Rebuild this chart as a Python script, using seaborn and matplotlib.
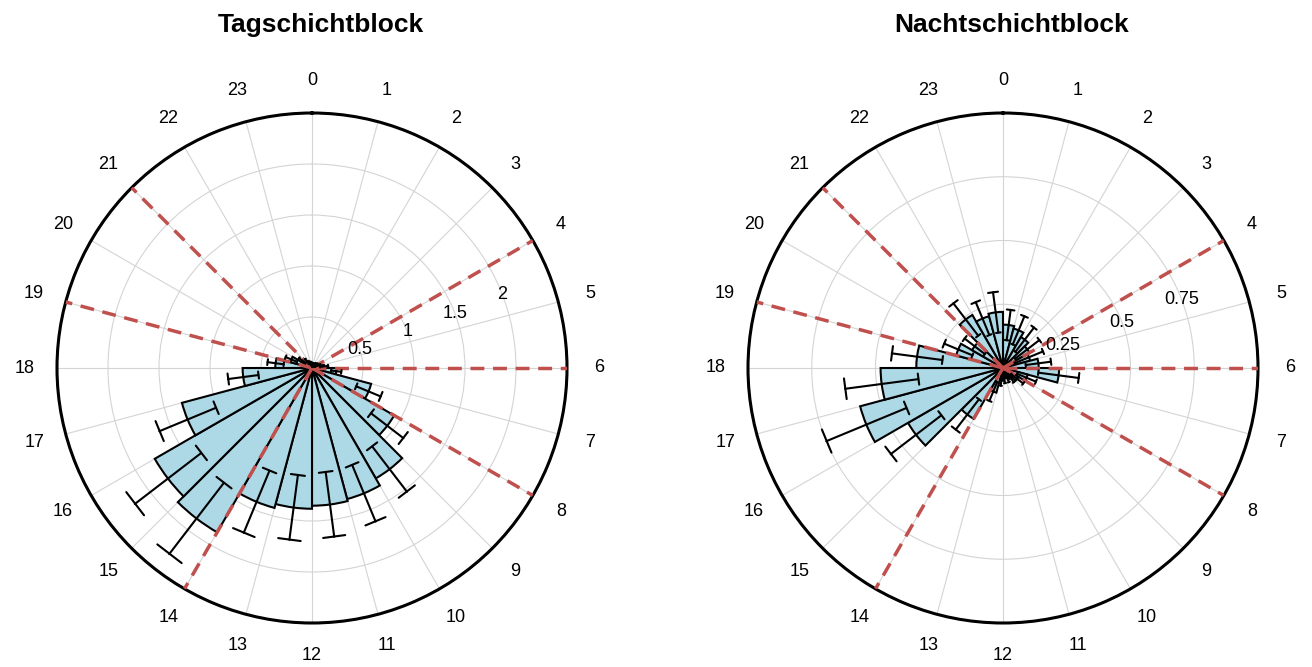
import numpy as np
import pandas as pd
import matplotlib
matplotlib.use("Agg")
import matplotlib.pyplot as plt
import seaborn as sns

# mean activity per hour-of-day bin (0 = 0-1 h, ...) and standard error
hours = list(range(24))
day_mean = [0.03, 0.03, 0.04, 0.05, 0.06, 0.12, 0.24, 0.60, 0.93, 1.25, 1.33, 1.35,
            1.38, 1.42, 1.86, 1.78, 1.32, 0.68, 0.36, 0.22, 0.12, 0.08, 0.05, 0.04]
day_se = [0.02, 0.02, 0.02, 0.02, 0.03, 0.04, 0.05, 0.13, 0.20, 0.28, 0.30, 0.32,
          0.32, 0.33, 0.44, 0.41, 0.30, 0.15, 0.08, 0.06, 0.04, 0.03, 0.02, 0.02]
night_mean = [0.17, 0.16, 0.14, 0.12, 0.11, 0.14, 0.22, 0.10, 0.07, 0.05, 0.04, 0.04,
              0.05, 0.10, 0.23, 0.43, 0.58, 0.48, 0.34, 0.19, 0.14, 0.24, 0.21, 0.22]
night_se = [0.06, 0.06, 0.06, 0.06, 0.06, 0.05, 0.08, 0.04, 0.03, 0.02, 0.02, 0.02,
            0.02, 0.04, 0.075, 0.125, 0.17, 0.145, 0.10, 0.06, 0.05, 0.08, 0.07, 0.08]

shift_hours = [4, 6, 8, 14, 19, 21]

day_rticks = [0.5, 1, 1.5, 2]
day_rlabels = ["0.5", "1", "1.5", "2"]
night_rticks = [0.25, 0.5, 0.75]
night_rlabels = ["0.25", "0.5", "0.75"]

sns.set_style("white")
plt.rcParams["font.family"] = ["Liberation Sans", "DejaVu Sans"]
plt.rcParams["text.color"] = "black"
plt.rcParams["xtick.labelcolor"] = "black"
plt.rcParams["ytick.labelcolor"] = "black"

GRID = "#d4d4d4"
RED = "#c0504d"


def rose(ax, mean, se, rmax, rticks, rlabels, title):
    ax.set_theta_zero_location("N")
    ax.set_theta_direction(-1)

    theta = np.deg2rad((np.array(hours) + 0.5) * 15)
    df = pd.DataFrame({"theta": theta, "value": mean})
    sns.barplot(data=df, x="theta", y="value", native_scale=True, orient="x",
                width=1, color="lightblue", saturation=1, edgecolor="black",
                linewidth=1.5, errorbar=None, ax=ax, zorder=2)

    # error bars with caps spanning a quarter hour either side
    half = np.deg2rad(3.75)
    for t, m, s in zip(theta, mean, se):
        ax.plot([t, t], [m - s, m + s], color="black", lw=1.5, zorder=4)
        for r in (m - s, m + s):
            ax.plot([t - half, t + half], [r, r], color="black", lw=1.5, zorder=4)

    for h in shift_hours:
        t = np.deg2rad(h * 15)
        ax.plot([t, t], [0, rmax], color=RED, lw=2.5, ls=(0, (4, 2.5)), zorder=3)

    ax.set_ylim(0, rmax)
    ax.set_xticks(np.deg2rad(np.array(hours) * 15))
    ax.set_xticklabels([str(h) for h in hours], fontsize=13)
    ax.set_yticks(rticks)
    ax.set_yticklabels([])
    for r, lab in zip(rticks, rlabels):
        ax.text(np.deg2rad(69), r, lab, ha="center", va="center", fontsize=13, zorder=5)
    ax.tick_params(axis="x", pad=13)
    ax.set_xlabel("")
    ax.set_ylabel("")
    ax.grid(True, color=GRID, lw=0.8)
    ax.set_axisbelow(True)
    ax.spines["polar"].set_linewidth(2.2)
    ax.spines["polar"].set_color("black")
    ax.text(0.517, 1.172, title, transform=ax.transAxes, ha="center", va="center",
            fontsize=19, fontweight="bold")


fig = plt.figure(figsize=(13.12, 6.67), dpi=100)
ax1 = fig.add_axes([57 / 1312, 44 / 667, 510 / 1312, 510 / 667], projection="polar")
ax2 = fig.add_axes([748 / 1312, 44 / 667, 510 / 1312, 510 / 667], projection="polar")

rose(ax1, day_mean, day_se, 2.5, day_rticks, day_rlabels, "Tagschichtblock")
rose(ax2, night_mean, night_se, 1.0, night_rticks, night_rlabels, "Nachtschichtblock")

fig.savefig("out.png", dpi=100, facecolor="white")
